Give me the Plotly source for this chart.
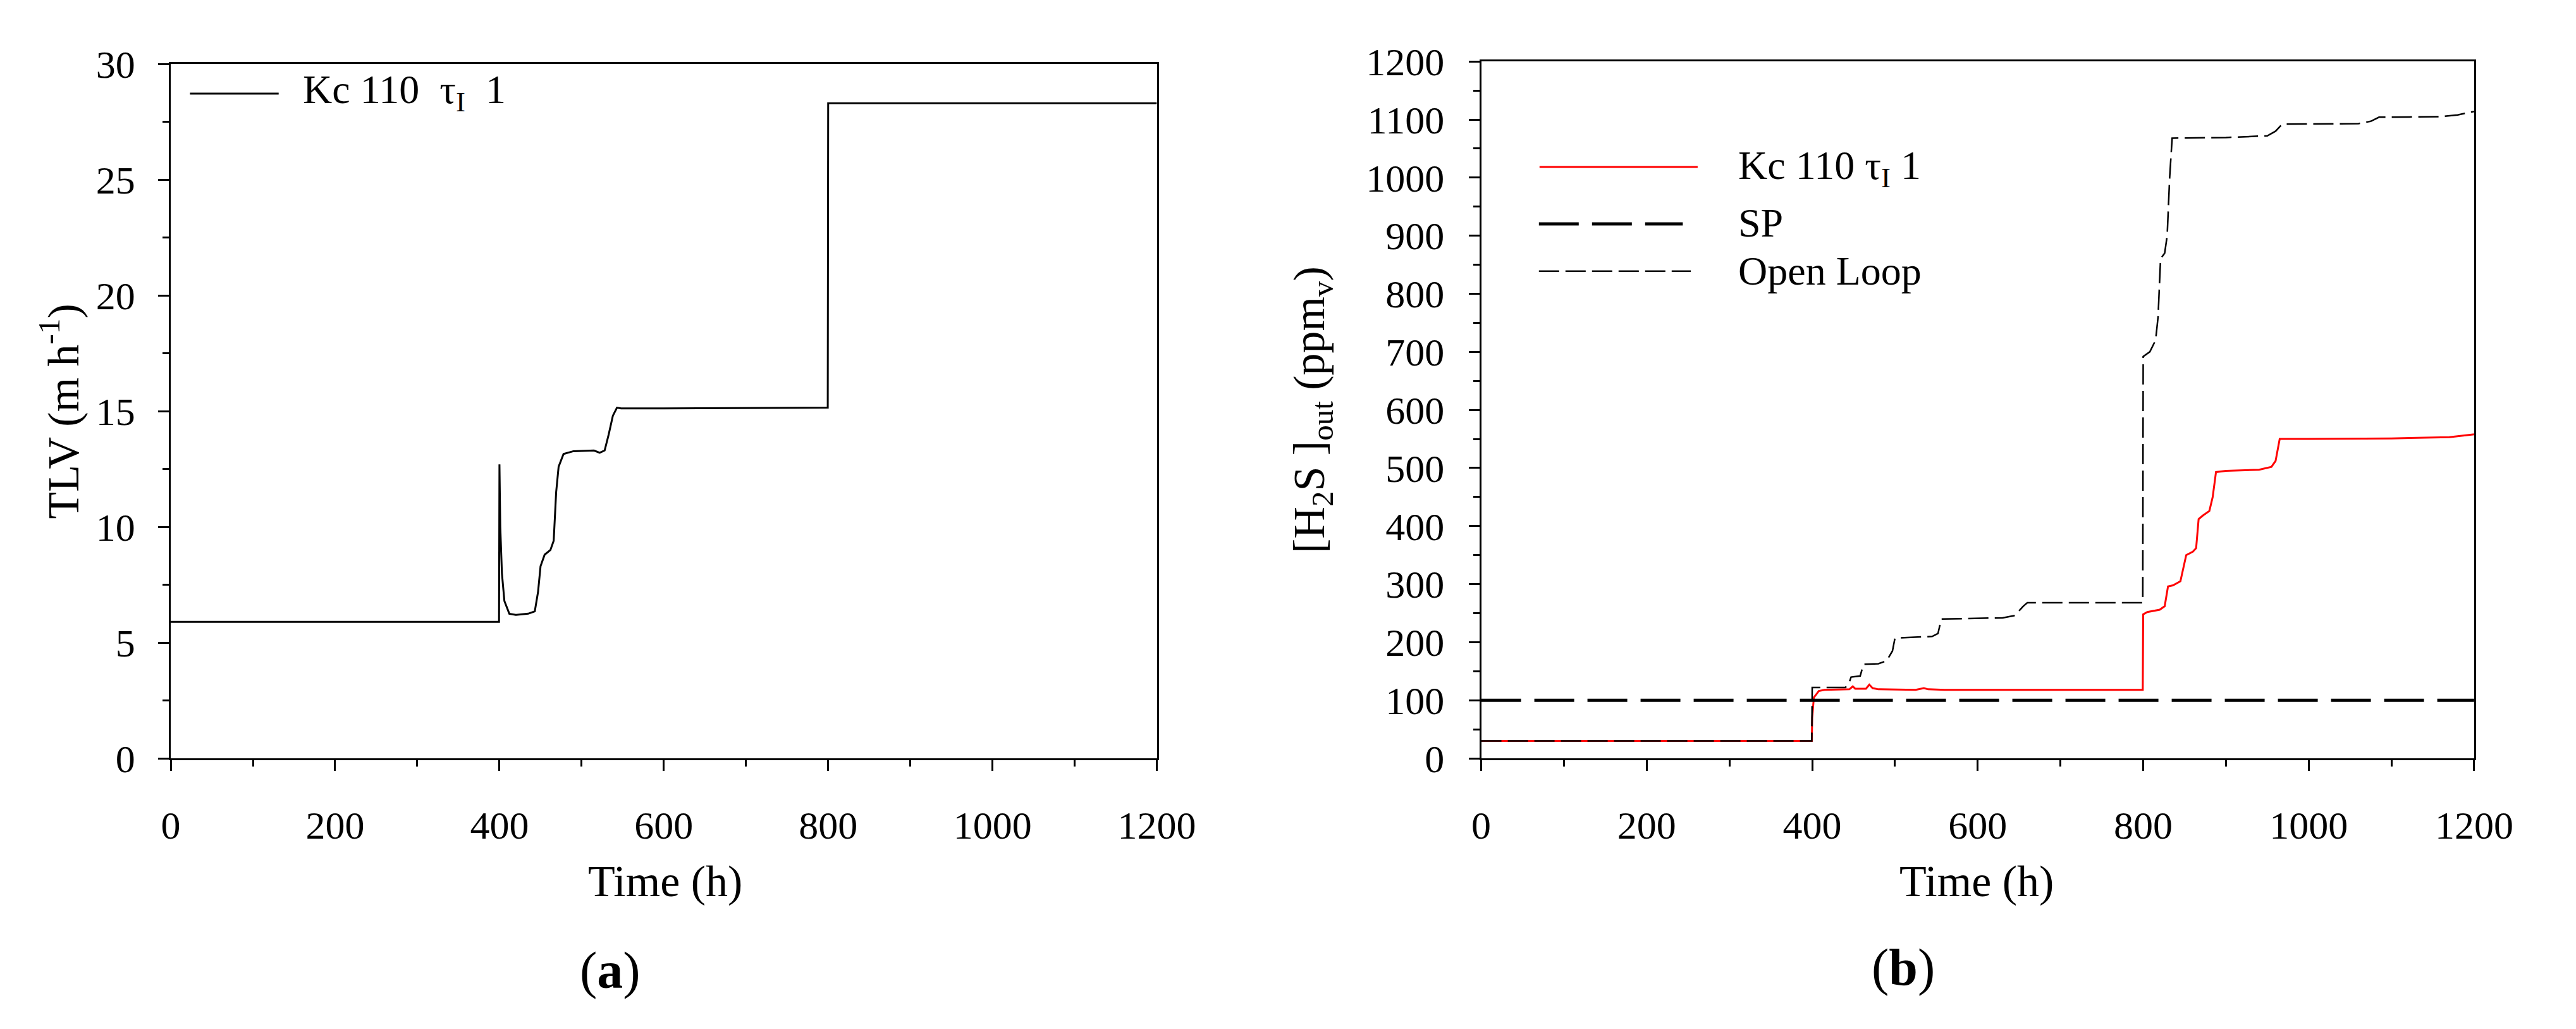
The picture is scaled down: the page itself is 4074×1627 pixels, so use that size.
import plotly.graph_objects as go

W, H = 4074, 1627
FONT = "Liberation Serif"

# ---- panel (a): TLV ----
tlv_time = [0, 399.5, 400, 401, 403, 406, 412, 420, 435, 443, 447, 450, 455,
            462, 466, 469, 472, 478, 490, 515, 522, 528, 533, 538, 543, 548,
            600, 700, 799.5, 800, 1200]
tlv_value = [5.9, 5.9, 12.7, 10.0, 8.0, 6.8, 6.25, 6.2, 6.25, 6.35, 7.2, 8.3,
             8.8, 9.0, 9.4, 11.5, 12.6, 13.15, 13.27, 13.3, 13.2, 13.3, 14.0,
             14.8, 15.15, 15.12, 15.12, 15.13, 15.15, 28.3, 28.3]

# ---- panel (b): H2S out ----
pi_time = [0, 399.5, 400, 402, 408, 415, 445, 449, 452, 465, 469, 473, 480,
           525, 535, 540, 560, 799.5, 800, 805, 820, 826, 830, 836, 845, 849,
           852, 860, 864, 867, 872, 880, 884, 888, 900, 940, 955, 960, 965,
           1000, 1100, 1170, 1200]
pi_value = [30, 30, 70, 105, 116, 118, 119, 124, 120, 120, 127, 121, 119,
            118, 121, 119, 118, 118, 248, 252, 256, 262, 296, 298, 305, 330,
            350, 356, 362, 412, 418, 426, 450, 493, 495, 497, 502, 512, 550,
            550, 551, 553, 558]

ol_time = [0, 399.5, 400, 440, 444, 447, 458, 462, 480, 490, 497, 500, 545,
           552, 556, 630, 645, 655, 660, 799.5, 800, 808, 815, 818, 821, 826,
           829, 832, 835, 900, 950, 960, 968, 1060, 1075, 1085, 1160, 1180,
           1200]
ol_value = [30, 30, 122, 122, 128, 140, 142, 162, 163, 168, 185, 207, 210,
            215, 240, 242, 246, 262, 268, 268, 692, 700, 720, 760, 860, 870,
            900, 1000, 1068, 1069, 1072, 1080, 1092, 1093, 1097, 1104, 1105,
            1108, 1114]

sp_time = [0, 1200]
sp_value = [100, 100]


def px(x):
    return x / W


def py(y):
    return 1 - y / H


fig = go.Figure()

fig.add_trace(go.Scatter(x=tlv_time, y=tlv_value, mode="lines",
                         name="Kc 110 τI 1", xaxis="x", yaxis="y",
                         line=dict(color="black", width=3), showlegend=False))

fig.add_trace(go.Scatter(x=pi_time, y=pi_value, mode="lines",
                         name="Kc 110 τI 1", xaxis="x2", yaxis="y2",
                         line=dict(color="#ff0000", width=3), showlegend=False))
fig.add_trace(go.Scatter(x=ol_time, y=ol_value, mode="lines",
                         name="Open Loop", xaxis="x2", yaxis="y2",
                         line=dict(color="black", width=2.5, dash="32px,10px"),
                         showlegend=False))
fig.add_trace(go.Scatter(x=sp_time, y=sp_value, mode="lines",
                         name="SP", xaxis="x2", yaxis="y2",
                         line=dict(color="black", width=5, dash="63px,21px"),
                         showlegend=False))

axis_common = dict(
    showline=True, mirror=True, linecolor="black", linewidth=3,
    ticks="outside", ticklen=17, tickwidth=3, tickcolor="black",
    showgrid=False, zeroline=False,
    tickfont=dict(family=FONT, size=62, color="black"),
)


def minor(step):
    return dict(dtick=step, ticklen=10, tickwidth=3, ticks="outside",
                tickcolor="black")


fig.update_layout(
    width=W, height=H,
    margin=dict(l=0, r=0, t=0, b=0),
    paper_bgcolor="white", plot_bgcolor="white",
    font=dict(family=FONT, color="black"),
    xaxis=dict(domain=[px(259), px(1849)], anchor="y", range=[0, 1200],
               dtick=200, minor=minor(100), ticklabelstandoff=32,
               **axis_common),
    yaxis=dict(domain=[py(1217), py(71)], anchor="x", range=[0, 30],
               dtick=5, minor=minor(2.5), ticklabelstandoff=24,
               **axis_common),
    xaxis2=dict(domain=[px(2372), px(3973)], anchor="y2", range=[0, 1200],
                dtick=200, minor=minor(100), ticklabelstandoff=32,
                **axis_common),
    yaxis2=dict(domain=[py(1217), py(67)], anchor="x2", range=[0, 1200],
                dtick=100, minor=minor(50), ticklabelstandoff=26,
                **axis_common),
)

# axis titles and panel labels
title_font = dict(family=FONT, size=70, color="black")
notes = [
    dict(text="Time (h)", x=px(1056), y=py(1420), textangle=0, font=title_font),
    dict(text="Time (h)", x=px(3171), y=py(1420), textangle=0, font=title_font),
    dict(text="TLV (m h<sup>-1</sup>)", x=px(80), y=py(644), textangle=-90,
         font=title_font),
    dict(text="[H<sub>2</sub>S ]<sub>out</sub> (ppm<sub>v</sub>)", x=px(2100),
         y=py(642), textangle=-90, font=title_font),
    dict(text="(<b>a</b>)", x=px(968), y=py(1567), textangle=0,
         font=dict(family=FONT, size=82, color="black")),
    dict(text="(<b>b</b>)", x=px(3052), y=py(1562), textangle=0,
         font=dict(family=FONT, size=82, color="black")),
]
for n in notes:
    fig.add_annotation(xref="paper", yref="paper", showarrow=False,
                       xanchor="center", yanchor="middle", **n)

# legends drawn by hand (long line samples as in the original)
legend_font = dict(family=FONT, size=64, color="black")
legend_items = [
    # (x0, x1, y, color, width, dash, label, text_x, text_y)
    (290, 433, 120, "black", 3, "solid",
     "Kc 110\u00a0\u00a0τ<sub>I</sub>\u00a0\u00a01", 470, 118),
    (2466, 2721, 241, "#ff0000", 3, "solid",
     "Kc 110 τ<sub>I</sub> 1", 2784, 243),
    (2465, 2697, 335, "black", 5, "63px,21px", "SP", 2784, 333),
    (2465, 2710, 413, "black", 2.5, "32px,10px", "Open Loop", 2784, 413),
]
for x0, x1, y, color, width, dash, label, tx, ty in legend_items:
    fig.add_shape(type="line", xref="paper", yref="paper",
                  x0=px(x0), x1=px(x1), y0=py(y), y1=py(y),
                  line=dict(color=color, width=width, dash=dash))
    fig.add_annotation(xref="paper", yref="paper", showarrow=False,
                       x=px(tx), y=py(ty), xanchor="left", yanchor="middle",
                       text=label, font=legend_font)

fig.write_html("out.html", config={"displayModeBar": False},
               post_script="document.body.style.margin='0';")
